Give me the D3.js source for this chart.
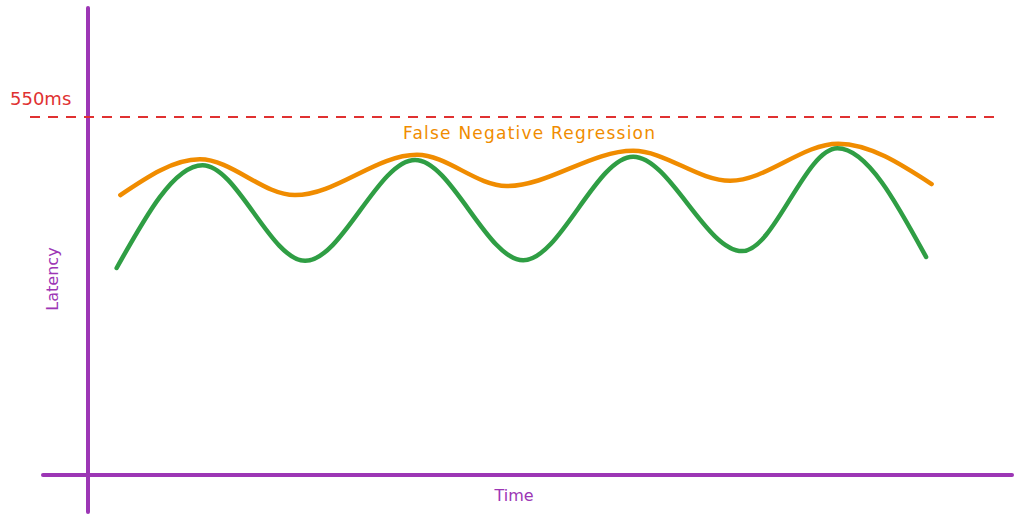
<!DOCTYPE html>
<html>
<head>
<meta charset="utf-8">
<script src="https://cdn.jsdelivr.net/npm/d3@7"></script>
<style>
  html, body { margin: 0; padding: 0; background: #fff; }
  svg { display: block; }
  text { font-family: "DejaVu Sans", sans-serif; }
</style>
</head>
<body>
<div id="chart"></div>
<script>
// time (arbitrary units, 0..100) and latency (ms)
const baselineTime = [3.1, 12.4, 23.5, 35.4, 47.1, 59.0, 70.8, 81.1, 90.7];
const baselineLatency = [318, 476, 329, 484, 330, 489, 344, 502, 335];

const regressedTime = [3.5, 12.1, 22.4, 35.6, 45.3, 59.0, 69.5, 81.2, 91.3];
const regressedLatency = [430, 485, 430, 492, 444, 498, 452, 509, 447];

const threshold = 550;
const thresholdLabel = "550ms";
const seriesLabel = "False Negative Regression";
const xLabel = "Time";
const yLabel = "Latency";

const width = 1021, height = 521;
const purple = "#9c36b5", red = "#e03131", orange = "#f08c00", green = "#2f9e44";

const svg = d3.select("#chart").append("svg")
    .attr("width", width)
    .attr("height", height);

const x = d3.scaleLinear().domain([0, 100]).range([88, 1012]);
const y = d3.scaleLinear().domain([0, 550]).range([475, 117]);

// axes (no ticks, just the lines, crossing past the origin)
svg.append("line")
    .attr("x1", x(0)).attr("x2", x(0))
    .attr("y1", 8).attr("y2", 512)
    .attr("stroke", purple).attr("stroke-width", 4).attr("stroke-linecap", "round");

svg.append("line")
    .attr("x1", 43).attr("x2", x(100))
    .attr("y1", y(0)).attr("y2", y(0))
    .attr("stroke", purple).attr("stroke-width", 4).attr("stroke-linecap", "round");

// threshold
svg.append("line")
    .attr("x1", 30).attr("x2", 995)
    .attr("y1", y(threshold)).attr("y2", y(threshold))
    .attr("stroke", red).attr("stroke-width", 2.2)
    .attr("stroke-dasharray", "10 8");

svg.append("text")
    .attr("x", 10).attr("y", y(threshold) - 12)
    .attr("fill", red).attr("font-size", 18)
    .text(thresholdLabel);

const line = d3.line()
    .x(d => x(d[0]))
    .y(d => y(d[1]))
    .curve(d3.curveMonotoneX);

svg.append("path")
    .datum(d3.zip(regressedTime, regressedLatency))
    .attr("d", line)
    .attr("fill", "none")
    .attr("stroke", orange).attr("stroke-width", 4.5).attr("stroke-linecap", "round");

svg.append("path")
    .datum(d3.zip(baselineTime, baselineLatency))
    .attr("d", line)
    .attr("fill", "none")
    .attr("stroke", green).attr("stroke-width", 4.5).attr("stroke-linecap", "round");

svg.append("text")
    .attr("x", 529).attr("y", 139)
    .attr("text-anchor", "middle")
    .attr("fill", orange).attr("font-size", 17)
    .attr("textLength", 252)
    .text(seriesLabel);

svg.append("text")
    .attr("x", 514).attr("y", 501)
    .attr("text-anchor", "middle")
    .attr("fill", purple).attr("font-size", 16)
    .text(xLabel);

svg.append("text")
    .attr("transform", "translate(58,279) rotate(-90)")
    .attr("text-anchor", "middle")
    .attr("fill", purple).attr("font-size", 16)
    .text(yLabel);
</script>
</body>
</html>
